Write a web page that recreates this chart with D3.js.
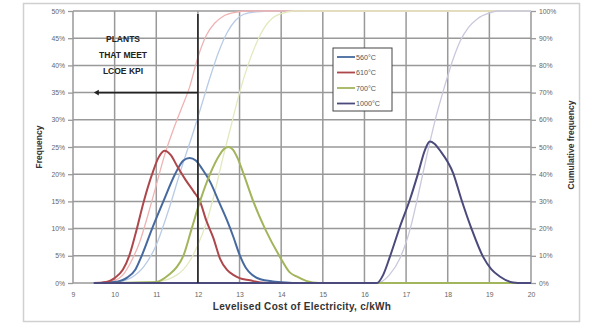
<!DOCTYPE html>
<html>
<head>
<meta charset="utf-8">
<script src="https://cdn.jsdelivr.net/npm/d3@7"></script>
<style>
  body { margin: 0; background: #fff; }
  svg text { font-family: "Liberation Sans", Arial, sans-serif; }
</style>
</head>
<body>
<svg id="chart" width="590" height="323"></svg>
<script>
// ---- data ----
const seriesNames = ['560°C', '610°C', '700°C', '1000°C'];
const xTicks = [9, 10, 11, 12, 13, 14, 15, 16, 17, 18, 19, 20];
const freqTicks = [0, 5, 10, 15, 20, 25, 30, 35, 40, 45, 50];
const cumTicks = [0, 10, 20, 30, 40, 50, 60, 70, 80, 90, 100];
const kpiLcoe = 12;
const kpiArrowLevel = 35;
const kpiArrowEnd = 9.58;

// frequency (%) vs LCOE (c/kWh)
const lcoe560 = [9.5, 10.0, 10.3, 10.5, 10.65, 10.9, 11.17, 11.45, 11.65, 11.8, 11.95, 12.1, 12.3, 12.5, 12.7, 12.85, 13.0, 13.15, 13.3, 13.5, 13.8, 14.1, 14.4, 20];
const freq560 = [0, 0.2, 1, 2.5, 5, 10, 15, 20, 22.5, 23, 22.5, 21, 18.5, 15, 11.5, 8.5, 5.2, 2.8, 1.5, 0.7, 0.3, 0.1, 0, 0];
const lcoe610 = [9.5, 9.8, 10.0, 10.2, 10.35, 10.5, 10.7, 10.9, 11.05, 11.2, 11.35, 11.5, 11.7, 11.9, 12.05, 12.2, 12.37, 12.53, 12.7, 12.85, 13.0, 13.25, 13.5, 13.8, 20];
const freq610 = [0, 0.2, 0.9, 2.5, 5, 9, 15, 20, 23, 24.3, 23.5, 21.5, 19, 16.8, 15, 11.5, 8.3, 4.5, 2.4, 1.5, 0.9, 0.5, 0.1, 0, 0];
const lcoe700 = [9.5, 11.0, 11.3, 11.5, 11.65, 11.85, 12.05, 12.29, 12.5, 12.62, 12.73, 12.84, 12.95, 13.09, 13.33, 13.61, 13.97, 14.2, 14.37, 14.6, 14.9, 20];
const freq700 = [0, 0.2, 1.5, 3, 5, 10, 15, 20, 23.3, 24.6, 25, 24.5, 23, 20.2, 15, 10, 4.8, 2, 1.2, 0.4, 0, 0];
const lcoe1000 = [9.5, 16.3, 16.45, 16.61, 16.85, 17.09, 17.29, 17.45, 17.57, 17.68, 17.81, 18.13, 18.33, 18.57, 18.85, 19.05, 19.25, 19.57, 19.8, 20];
const freq1000 = [0, 0, 1.5, 4.8, 10.3, 15.3, 20.2, 24.4, 26, 25.6, 24.4, 20.2, 15.3, 10, 4.8, 2.5, 1.2, 0.1, 0, 0];

// cumulative frequency (%) vs LCOE
const cumLcoe560 = [9.5, 10.0, 10.4, 10.7, 11.0, 11.3, 11.6, 11.9, 12.1, 12.3, 12.5, 12.7, 12.9, 13.1, 13.4, 13.8, 20];
const cum560 = [0, 0.3, 2, 6, 14, 27, 42, 56, 66, 76, 85, 92, 96.5, 98.8, 99.7, 100, 100];
const cumLcoe610 = [9.5, 10.0, 10.2, 10.4, 10.6, 10.8, 11.0, 11.2, 11.4, 11.6, 11.8, 12.0, 12.2, 12.4, 12.6, 12.9, 13.2, 20];
const cum610 = [0, 1, 3, 8, 15, 25, 36, 47, 56, 64, 72, 83, 91, 95.5, 98, 99.5, 100, 100];
const cumLcoe700 = [9.5, 11.0, 11.5, 11.8, 12.0, 12.2, 12.4, 12.6, 12.8, 13.0, 13.2, 13.4, 13.6, 13.8, 14.0, 14.3, 20];
const cum700 = [0, 0.5, 3, 8, 14, 22, 33, 46, 58, 70, 80, 88, 94, 97.5, 99, 100, 100];
const cumLcoe1000 = [9.5, 16.3, 16.6, 16.85, 17.1, 17.3, 17.5, 17.7, 17.9, 18.1, 18.3, 18.5, 18.7, 19.0, 19.2, 20];
const cum1000 = [0, 0, 3, 9, 20, 33, 47, 60, 71, 81, 89, 94, 97, 99.3, 100, 100];

const lineColors = ['#46699f', '#ad474b', '#a2b55c', '#4b4a7c'];
const faintColors = ['#b9cbe6', '#efb3b3', '#e3e9bf', '#c9c8dd'];

// ---- layout ----
const svg = d3.select('#chart');
const plot = { left: 73, right: 531, top: 11, bottom: 283 };

const x = d3.scaleLinear().domain([9, 20]).range([plot.left, plot.right]);
const yFreq = d3.scaleLinear().domain([0, 50]).range([plot.bottom, plot.top]);
const yCum = d3.scaleLinear().domain([0, 100]).range([plot.bottom, plot.top]);

// outer frame
svg.append('rect')
  .attr('x', 23.5).attr('y', 3.5).attr('width', 556).attr('height', 318)
  .attr('fill', '#fff').attr('stroke', '#d0d0d0').attr('stroke-width', 1.5);

// grid
const gridColor = '#999';
const grid = svg.append('g').attr('class', 'grid');
grid.selectAll('.hgrid').data(freqTicks).join('line')
  .attr('class', 'hgrid')
  .attr('x1', plot.left).attr('x2', plot.right)
  .attr('y1', d => yFreq(d)).attr('y2', d => yFreq(d))
  .attr('stroke', gridColor).attr('stroke-width', 1.5);
grid.selectAll('.vgrid').data(xTicks).join('line')
  .attr('class', 'vgrid')
  .attr('x1', d => x(d)).attr('x2', d => x(d))
  .attr('y1', plot.top).attr('y2', plot.bottom)
  .attr('stroke', gridColor).attr('stroke-width', 1.5);

// axes
const tickColor = '#666';
const xAxis = svg.append('g')
  .attr('transform', `translate(0,${plot.bottom})`)
  .call(d3.axisBottom(x).tickValues(xTicks).tickSize(0).tickPadding(9).tickFormat(d3.format('d')));
const yAxisL = svg.append('g')
  .attr('transform', `translate(${plot.left},0)`)
  .call(d3.axisLeft(yFreq).tickValues(freqTicks).tickSize(5).tickPadding(3).tickFormat(d => d + '%'));
const yAxisR = svg.append('g')
  .attr('transform', `translate(${plot.right},0)`)
  .call(d3.axisRight(yCum).tickValues(cumTicks).tickSize(5).tickPadding(3).tickFormat(d => d + '%'));

[xAxis, yAxisL, yAxisR].forEach(a => {
  a.select('.domain').remove();
  a.selectAll('.tick line').attr('stroke', gridColor).attr('stroke-width', 1.3);
  a.selectAll('.tick text').attr('fill', tickColor).style('font-size', '6.8px');
});

// axis titles
svg.append('text')
  .attr('x', x(14.5)).attr('y', 310)
  .attr('text-anchor', 'middle')
  .style('font-size', '10px').style('font-weight', 'bold').style('letter-spacing', '0.3px').attr('fill', '#333')
  .text('Levelised Cost  of Electricity, c/kWh');
svg.append('text')
  .attr('transform', 'translate(42,147) rotate(-90)')
  .attr('text-anchor', 'middle')
  .style('font-size', '8.5px').style('font-weight', 'bold').attr('fill', '#333')
  .text('Frequency');
svg.append('text')
  .attr('transform', 'translate(574,145) rotate(-90)')
  .attr('text-anchor', 'middle')
  .style('font-size', '8.5px').style('font-weight', 'bold').attr('fill', '#333')
  .text('Cumulative frequency');

// series
const freqX = [lcoe560, lcoe610, lcoe700, lcoe1000];
const freqY = [freq560, freq610, freq700, freq1000];
const cumX = [cumLcoe560, cumLcoe610, cumLcoe700, cumLcoe1000];
const cumY = [cum560, cum610, cum700, cum1000];

const cumLine = d3.line().x(d => x(d[0])).y(d => yCum(d[1])).curve(d3.curveMonotoneX);
const freqLine = d3.line().x(d => x(d[0])).y(d => yFreq(d[1])).curve(d3.curveMonotoneX);

svg.append('g').selectAll('path').data(seriesNames).join('path')
  .attr('d', (n, i) => cumLine(d3.zip(cumX[i], cumY[i])))
  .attr('fill', 'none')
  .attr('stroke', (n, i) => faintColors[i])
  .attr('stroke-width', 1.3);

svg.append('g').selectAll('path').data(seriesNames).join('path')
  .attr('d', (n, i) => freqLine(d3.zip(freqX[i], freqY[i])))
  .attr('fill', 'none')
  .attr('stroke', (n, i) => lineColors[i])
  .attr('stroke-width', 2);

// KPI marker
svg.append('line')
  .attr('x1', x(kpiLcoe)).attr('x2', x(kpiLcoe))
  .attr('y1', plot.top + 3).attr('y2', plot.bottom)
  .attr('stroke', '#222').attr('stroke-width', 1.6);
svg.append('line')
  .attr('x1', x(kpiLcoe)).attr('x2', x(kpiArrowEnd))
  .attr('y1', yFreq(kpiArrowLevel)).attr('y2', yFreq(kpiArrowLevel))
  .attr('stroke', '#222').attr('stroke-width', 1.6);
svg.append('path')
  .attr('d', d3.symbol(d3.symbolTriangle, 14)())
  .attr('transform', `translate(${x(kpiArrowEnd)},${yFreq(kpiArrowLevel)}) rotate(-90)`)
  .attr('fill', '#222');

const kpiText = svg.append('text')
  .attr('text-anchor', 'middle')
  .style('font-size', '8.5px').style('font-weight', 'bold').attr('fill', '#222');
['PLANTS', 'THAT MEET', 'LCOE KPI'].forEach((t, i) => {
  kpiText.append('tspan').attr('x', 123).attr('y', 42 + i * 16).text(t);
});

// legend
const legend = svg.append('g').attr('transform', 'translate(333,48)');
legend.append('rect')
  .attr('width', 59).attr('height', 63)
  .attr('fill', '#fff').attr('stroke', '#444').attr('stroke-width', 1);
const items = legend.selectAll('.item').data(seriesNames).join('g')
  .attr('class', 'item')
  .attr('transform', (d, i) => `translate(0,${9 + i * 15.5})`);
items.append('line')
  .attr('x1', 4).attr('x2', 22)
  .attr('stroke', (d, i) => lineColors[i]).attr('stroke-width', 1.8);
items.append('text')
  .attr('x', 23).attr('y', 2.5)
  .style('font-size', '7.2px').attr('fill', '#555')
  .text(d => d);
</script>
</body>
</html>
